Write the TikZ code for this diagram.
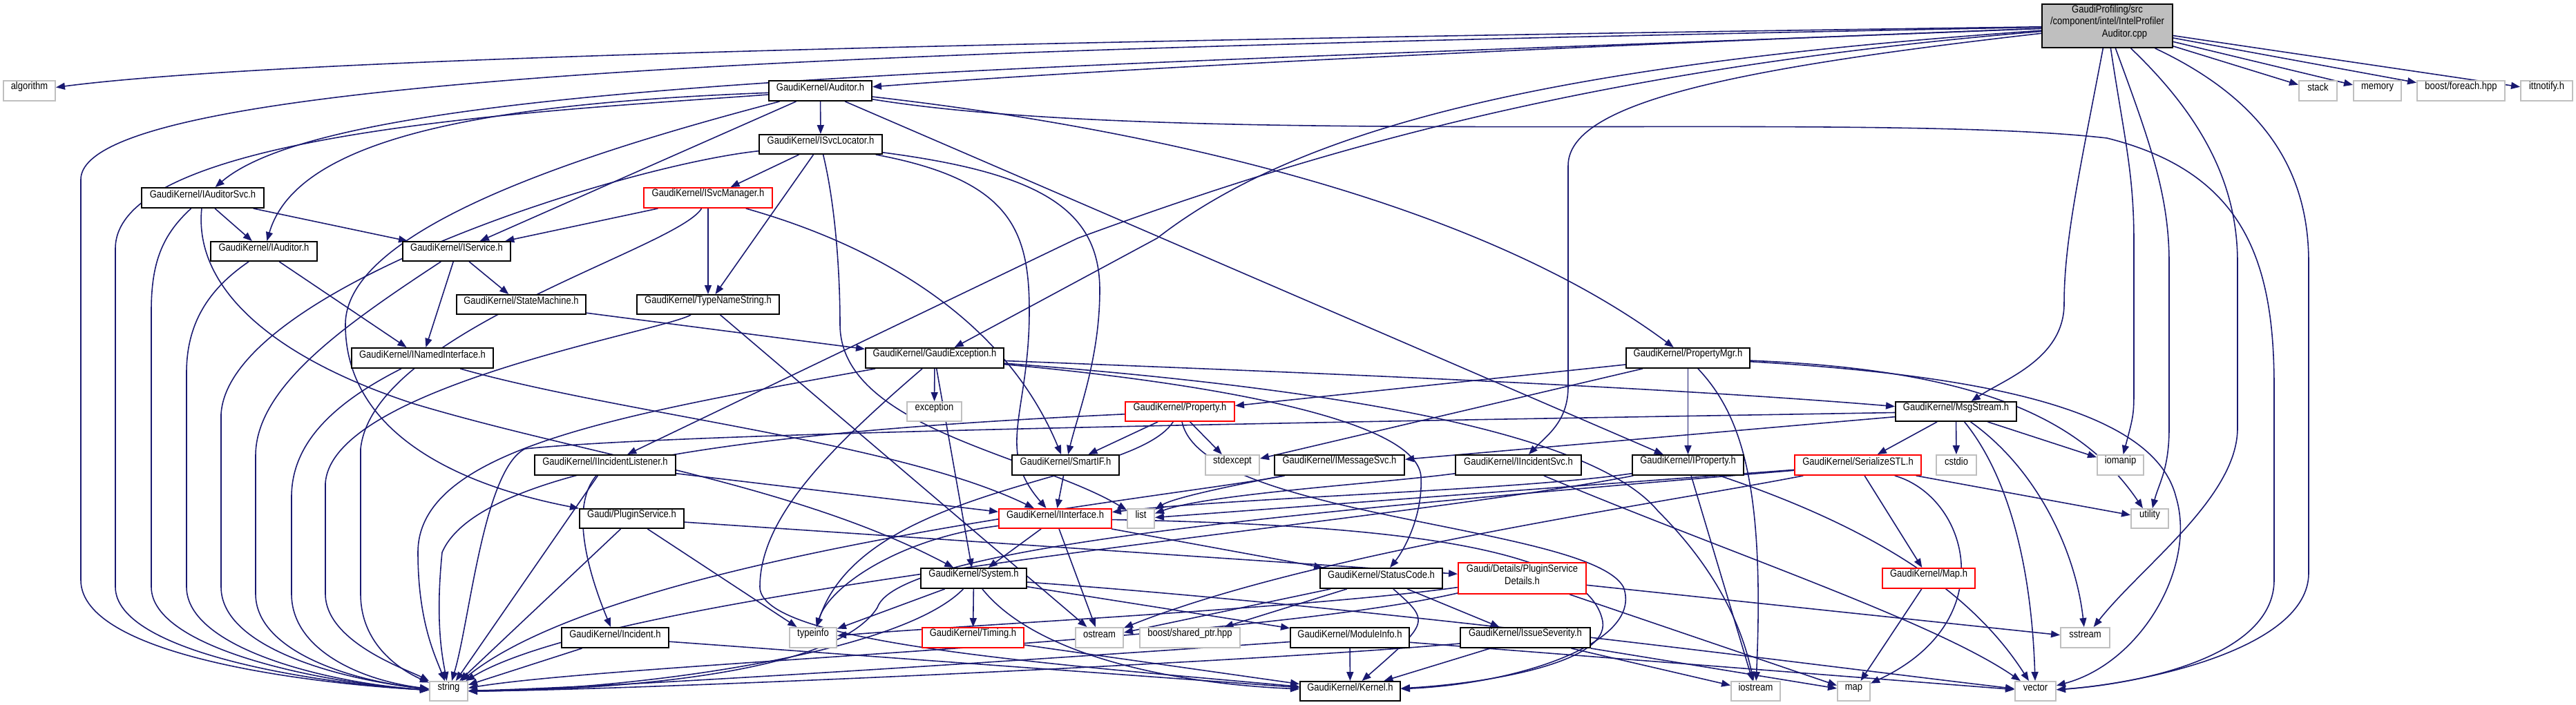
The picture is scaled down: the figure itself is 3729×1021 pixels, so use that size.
\documentclass[tikz,border=0pt]{standalone}
\usepackage{fontspec}
\setmainfont{Liberation Sans}[FakeStretch=0.86]
\usetikzlibrary{arrows.meta,fit}
\definecolor{edgec}{HTML}{191970}
\definecolor{grayb}{HTML}{BFBFBF}
\pgfdeclarelayer{background}
\pgfsetlayers{background,main}
\tikzset{
  every node/.style={font=\fontsize{4.3pt}{5pt}\selectfont, inner sep=0pt},
  dbox/.style={draw=black, line width=0.55pt, fill=white},
  gbox/.style={draw=grayb, line width=0.55pt, fill=white},
  rbox/.style={draw=red, line width=0.55pt, fill=white},
  rootbox/.style={draw=black, line width=0.55pt, fill=grayb},
  edg/.style={draw=edgec, line width=0.45pt, -{Triangle[length=0.13cm,width=0.1cm]}},
}
\newcommand\bx[7]{\node[#1, fit={(#3,#4) (#5,#6)}] (#2) {#7};}
\begin{document}
\begin{tikzpicture}[x=0.01cm,y=-0.01cm]
\useasboundingbox (0,0) rectangle (3729,1021);
% nodes
\bx{rootbox,align=left}{root}{2956}{6}{3145}{69}{GaudiProfiling/src\\/component/intel/IntelProfiler\\\hphantom{/compon}Auditor.cpp}
\bx{gbox}{alg}{5}{117}{80}{146}{algorithm}
\bx{dbox}{aud}{1113}{117}{1262}{146}{GaudiKernel/Auditor.h}
\bx{gbox}{stk}{3328}{117}{3383}{146}{stack}
\bx{gbox}{mem}{3407}{117}{3476}{146}{memory}
\bx{gbox}{bfe}{3499}{117}{3626}{146}{boost/foreach.hpp}
\bx{gbox}{itt}{3649}{117}{3724}{146}{ittnotify.h}
\bx{dbox}{isl}{1099}{195}{1277}{223}{GaudiKernel/ISvcLocator.h}
\bx{dbox}{ias}{205}{272}{382}{301}{GaudiKernel/IAuditorSvc.h}
\bx{rbox}{ism}{932}{272}{1118}{301}{GaudiKernel/ISvcManager.h}
\bx{dbox}{iau}{305}{350}{459}{378}{GaudiKernel/IAuditor.h}
\bx{dbox}{isv}{583}{350}{739}{378}{GaudiKernel/IService.h}
\bx{dbox}{sm}{661}{427}{848}{455}{GaudiKernel/StateMachine.h}
\bx{dbox}{tns}{922}{427}{1128}{455}{GaudiKernel/TypeNameString.h}
\bx{dbox}{ini}{509}{504}{714}{533}{GaudiKernel/INamedInterface.h}
\bx{dbox}{gex}{1253}{504}{1453}{533}{GaudiKernel/GaudiException.h}
\bx{dbox}{pmg}{2354}{504}{2533}{533}{GaudiKernel/PropertyMgr.h}
\bx{gbox}{exc}{1313}{582}{1392}{610}{exception}
\bx{rbox}{prp}{1629}{582}{1787}{610}{GaudiKernel/Property.h}
\bx{dbox}{msg}{2744}{582}{2919}{610}{GaudiKernel/MsgStream.h}
\bx{dbox}{ils}{774}{659}{978}{688}{GaudiKernel/IIncidentListener.h}
\bx{dbox}{sif}{1465}{659}{1620}{688}{GaudiKernel/SmartIF.h}
\bx{gbox}{std}{1745}{659}{1823}{688}{stdexcept}
\bx{dbox}{ims}{1845}{659}{2033}{688}{GaudiKernel/IMessageSvc.h}
\bx{dbox}{iis}{2107}{659}{2289}{688}{GaudiKernel/IIncidentSvc.h}
\bx{dbox}{ipr}{2363}{659}{2524}{688}{GaudiKernel/IProperty.h}
\bx{rbox}{ser}{2598}{659}{2781}{688}{GaudiKernel/SerializeSTL.h}
\bx{gbox}{cst}{2803}{659}{2861}{688}{cstdio}
\bx{gbox}{iom}{3036}{659}{3103}{688}{iomanip}
\bx{dbox}{ps}{839}{737}{990}{765}{Gaudi/PluginService.h}
\bx{rbox}{iif}{1446}{737}{1609}{765}{GaudiKernel/IInterface.h}
\bx{gbox}{lst}{1632}{737}{1671}{765}{list}
\bx{gbox}{utl}{3085}{737}{3139}{765}{utility}
\bx{dbox}{sys}{1333}{823}{1486}{852}{GaudiKernel/System.h}
\bx{dbox}{sc}{1911}{823}{2088}{852}{GaudiKernel/StatusCode.h}
\bx{rbox,align=center}{psd}{2111}{815}{2296}{860}{Gaudi/Details/PluginService\\Details.h}
\bx{rbox}{maph}{2725}{823}{2859}{852}{GaudiKernel/Map.h}
\bx{dbox}{inc}{813}{909}{968}{938}{GaudiKernel/Incident.h}
\bx{gbox}{tyi}{1143}{909}{1211}{938}{typeinfo}
\bx{rbox}{tim}{1335}{909}{1482}{938}{GaudiKernel/Timing.h}
\bx{gbox}{ost}{1557}{909}{1626}{938}{ostream}
\bx{gbox}{bsp}{1650}{909}{1795}{938}{boost/shared\_ptr.hpp}
\bx{dbox}{mi}{1868}{909}{2040}{938}{GaudiKernel/ModuleInfo.h}
\bx{dbox}{isev}{2114}{909}{2302}{938}{GaudiKernel/IssueSeverity.h}
\bx{gbox}{sst}{2983}{909}{3054}{938}{sstream}
\bx{gbox}{str}{622}{987}{677}{1015}{string}
\bx{dbox}{ker}{1882}{987}{2027}{1015}{GaudiKernel/Kernel.h}
\bx{gbox}{ios}{2506}{987}{2577}{1015}{iostream}
\bx{gbox}{map}{2660}{987}{2707}{1015}{map}
\bx{gbox}{vec}{2917}{987}{2976}{1015}{vector}
\begin{pgfonlayer}{background}
% root
\draw[edg] (root) .. controls (1400,60) and (400,85) .. (alg);
\draw[edg] (root) .. controls (1400,70) and (117,100) .. (117,260) -- (117,840) .. controls (117,950) and (450,990) .. (str);
\draw[edg] (root) .. controls (1500,100) and (500,110) .. (ias);
\draw[edg] (root) .. controls (2200,70) and (1600,100) .. (aud);
\draw[edg] (root) .. controls (2300,100) and (1900,220) .. (1560,345) -- (ils);
\draw[edg] (root) .. controls (2300,90) and (1900,170) .. (1675,345) -- (gex);
\draw[edg] (root) .. controls (2500,100) and (2270,150) .. (2270,240) -- (2270,560) .. controls (2270,610) and (2240,630) .. (iis);
\draw[edg] (root) .. controls (3010,250) and (2988,350) .. (2988,440) .. controls (2988,520) and (2900,550) .. (msg);
\draw[edg] (root) .. controls (3075,200) and (3089,250) .. (3089,350) -- (3089,560) .. controls (3089,600) .. (iom);
\draw[edg] (root) .. controls (3110,200) and (3140,280) .. (3140,380) -- (3140,620) .. controls (3140,680) and (3125,700) .. (utl);
\draw[edg] (root) .. controls (3200,180) and (3239,280) .. (3239,380) -- (3239,620) .. controls (3239,720) and (3100,820) .. (sst);
\draw[edg] (root) .. controls (3290,150) and (3342,260) .. (3342,380) -- (3342,830) .. controls (3342,940) and (3100,990) .. (vec);
\draw[edg] (root) -- (stk);
\draw[edg] (root) -- (mem);
\draw[edg] (root) -- (bfe);
\draw[edg] (root) -- (itt);
% Auditor
\draw[edg] (aud) -- (isl);
\draw[edg] (aud) .. controls (700,150) and (430,200) .. (iau);
\draw[edg] (aud) .. controls (800,160) and (167,190) .. (167,360) -- (167,850) .. controls (167,945) and (460,990) .. (str);
\draw[edg] (aud) -- (isv);
\draw[edg] (aud) .. controls (850,220) and (500,330) .. (500,470) .. controls (500,620) and (650,700) .. (ps);
\draw[edg] (aud) .. controls (1700,190) and (2150,300) .. (pmg);
\draw[edg] (aud) -- (ipr);
\draw[edg] (aud) .. controls (1700,215) and (2700,160) .. (3050,200) .. controls (3250,250) and (3292,380) .. (3292,560) -- (3292,840) .. controls (3292,950) and (3100,990) .. (vec);
% ISvcLocator
\draw[edg] (isl) -- (ism);
\draw[edg] (isl) -- (tns);
\draw[edg] (isl) .. controls (900,240) and (330,420) .. (320,600) -- (320,850) .. controls (320,940) and (500,985) .. (str);
\draw[edg] (isl) .. controls (1500,250) and (1592,300) .. (1592,420) .. controls (1592,520) and (1560,600) .. (sif);
\draw[edg] (isl) .. controls (1460,260) and (1490,330) .. (1490,450) .. controls (1490,600) and (1440,650) .. (iif);
\draw[edg] (isl) .. controls (1210,300) and (1216,400) .. (1216,470) .. controls (1216,620) and (1500,660) .. (lst);
% ISvcManager
\draw[edg] (ism) -- (isv);
\draw[edg] (ism) -- (tns);
\draw[edg] (ism) .. controls (1250,350) and (1450,450) .. (sif);
\draw[edg] (ism) .. controls (980,360) and (540,480) .. (522,650) -- (522,860) .. controls (522,940) and (590,975) .. (str);
% IAuditorSvc
\draw[edg] (ias) -- (iau);
\draw[edg] (ias) -- (isv);
\draw[edg] (ias) .. controls (235,340) and (219,380) .. (219,450) -- (219,850) .. controls (219,940) and (470,990) .. (str);
\draw[edg] (ias) .. controls (280,420) and (400,520) .. (600,585) .. controls (850,660) and (1150,700) .. (sys);
% IAuditor
\draw[edg] (iau) -- (ini);
\draw[edg] (iau) .. controls (300,420) and (270,470) .. (270,540) -- (270,850) .. controls (270,940) and (480,990) .. (str);
% IService
\draw[edg] (isv) -- (ini);
\draw[edg] (isv) -- (sm);
\draw[edg] (isv) .. controls (500,470) and (370,560) .. (370,660) -- (370,860) .. controls (370,940) and (500,985) .. (str);
% StateMachine
\draw[edg] (sm) -- (gex);
% TypeNameString
\draw[edg] (tns) .. controls (960,480) and (480,560) .. (471,700) -- (471,860) .. controls (471,930) and (590,970) .. (str);
\draw[edg] (tns) -- (ost);
% INamedInterface
\draw[edg] (ini) .. controls (900,600) and (1300,640) .. (iif);
\draw[edg] (ini) .. controls (470,590) and (422,650) .. (422,720) -- (422,860) .. controls (422,940) and (520,985) .. (str);
% GaudiException
\draw[edg] (gex) -- (exc);
\draw[edg] (gex) .. controls (900,600) and (605,650) .. (605,800) .. controls (605,900) and (630,950) .. (str);
\draw[edg] (gex) -- (sys);
\draw[edg] (gex) .. controls (1200,650) and (1100,750) .. (1100,850) .. controls (1100,930) and (1500,960) .. (ker);
\draw[edg] (gex) .. controls (1700,550) and (2050,600) .. (2057,690) .. controls (2060,750) and (2030,800) .. (sc);
\draw[edg] (gex) .. controls (1900,560) and (2300,620) .. (2400,740) .. controls (2480,820) and (2520,900) .. (ios);
\draw[edg] (gex) .. controls (1900,540) and (2400,560) .. (msg);
% PropertyMgr
\draw[edg] (pmg) -- (prp);
\draw[edg] (pmg) -- (ipr);
\draw[edg] (pmg) .. controls (2520,600) and (2555,700) .. (ios);
\draw[edg] (pmg) -- (std);
\draw[edg] (pmg) .. controls (2850,535) and (3010,600) .. (utl);
\draw[edg] (pmg) .. controls (2900,545) and (3120,600) .. (3150,720) .. controls (3180,820) and (3100,960) .. (vec);
% MsgStream
\draw[edg] (msg) -- (cst);
\draw[edg] (msg) -- (iom);
\draw[edg] (msg) -- (ims);
\draw[edg] (msg) -- (ser);
\draw[edg] (msg) .. controls (2000,610) and (1000,625) .. (760,650) .. controls (700,680) and (680,900) .. (str);
\draw[edg] (msg) .. controls (2900,680) and (2940,800) .. (vec);
\draw[edg] (msg) .. controls (2950,680) and (3005,800) .. (sst);
% Property
\draw[edg] (prp) -- (sif);
\draw[edg] (prp) -- (std);
\draw[edg] (prp) .. controls (1200,620) and (700,660) .. (640,800) .. controls (630,900) and (640,950) .. (str);
\draw[edg] (prp) .. controls (1640,700) and (1250,700) .. (tyi);
\draw[edg] (prp) .. controls (1740,750) and (2300,760) .. (2350,850) .. controls (2380,930) and (2200,990) .. (ker);
% IIncidentListener
\draw[edg] (ils) -- (iif);
\draw[edg] (ils) .. controls (820,740) and (860,850) .. (inc);
\draw[edg] (ils) -- (str);
% SmartIF
\draw[edg] (sif) -- (iif);
% IMessageSvc
\draw[edg] (ims) .. controls (1800,700) and (1700,720) .. (lst);
\draw[edg] (ims) .. controls (1700,720) and (900,800) .. (str);
% IIncidentSvc
\draw[edg] (iis) .. controls (2000,700) and (1750,715) .. (lst);
\draw[edg] (iis) .. controls (2500,800) and (2800,900) .. (vec);
% IProperty
\draw[edg] (ipr) .. controls (2200,710) and (1800,720) .. (iif);
\draw[edg] (ipr) -- (ios);
\draw[edg] (ipr) .. controls (2700,760) and (2850,850) .. (vec);
\draw[edg] (ipr) .. controls (2000,760) and (900,850) .. (str);
% SerializeSTL
\draw[edg] (ser) -- (maph);
\draw[edg] (ser) .. controls (2850,720) and (2900,900) .. (map);
\draw[edg] (ser) -- (utl);
\draw[edg] (ser) .. controls (2400,730) and (1900,800) .. (ost);
\draw[edg] (ser) -- (lst);
\draw[edg] (ser) .. controls (1900,740) and (1300,790) .. (1270,880) .. controls (1200,990) and (800,1000) .. (str);
% PluginService
\draw[edg] (ps) -- (psd);
\draw[edg] (ps) -- (tyi);
\draw[edg] (ps) -- (str);
% IInterface
\draw[edg] (iif) -- (sys);
\draw[edg] (iif) -- (ost);
\draw[edg] (iif) .. controls (1300,780) and (1200,850) .. (tyi);
\draw[edg] (iif) .. controls (2000,760) and (2300,790) .. (2320,900) .. controls (2330,960) and (2150,990) .. (ker);
\draw[edg] (iif) -- (sc);
% System
\draw[edg] (sys) -- (tyi);
\draw[edg] (sys) -- (tim);
\draw[edg] (sys) -- (mi);
\draw[edg] (sys) .. controls (1300,950) and (900,1000) .. (str);
\draw[edg] (sys) .. controls (1500,950) and (1700,990) .. (ker);
\draw[edg] (sys) .. controls (2000,880) and (2600,960) .. (vec);
% StatusCode
\draw[edg] (sc) -- (ost);
\draw[edg] (sc) -- (bsp);
\draw[edg] (sc) .. controls (2070,900) .. (ker);
\draw[edg] (sc) -- (isev);
% PluginServiceDetails
\draw[edg] (psd) .. controls (1800,930) and (900,960) .. (str);
\draw[edg] (psd) -- (map);
\draw[edg] (psd) -- (sst);
\draw[edg] (psd) .. controls (1900,880) and (1400,905) .. (tyi);
% Map.h
\draw[edg] (maph) -- (map);
% Incident
\draw[edg] (inc) -- (str);
\draw[edg] (inc) -- (ker);
% Timing
\draw[edg] (tim) -- (ker);
% ModuleInfo
\draw[edg] (mi) -- (ker);
\draw[edg] (mi) .. controls (1500,955) and (900,995) .. (str);
\draw[edg] (mi) -- (vec);
% IssueSeverity
\draw[edg] (isev) -- (ker);
\draw[edg] (isev) -- (ios);
\draw[edg] (isev) -- (map);
\draw[edg] (isev) .. controls (1800,960) and (900,1000) .. (str);
\end{pgfonlayer}
\end{tikzpicture}
\end{document}
